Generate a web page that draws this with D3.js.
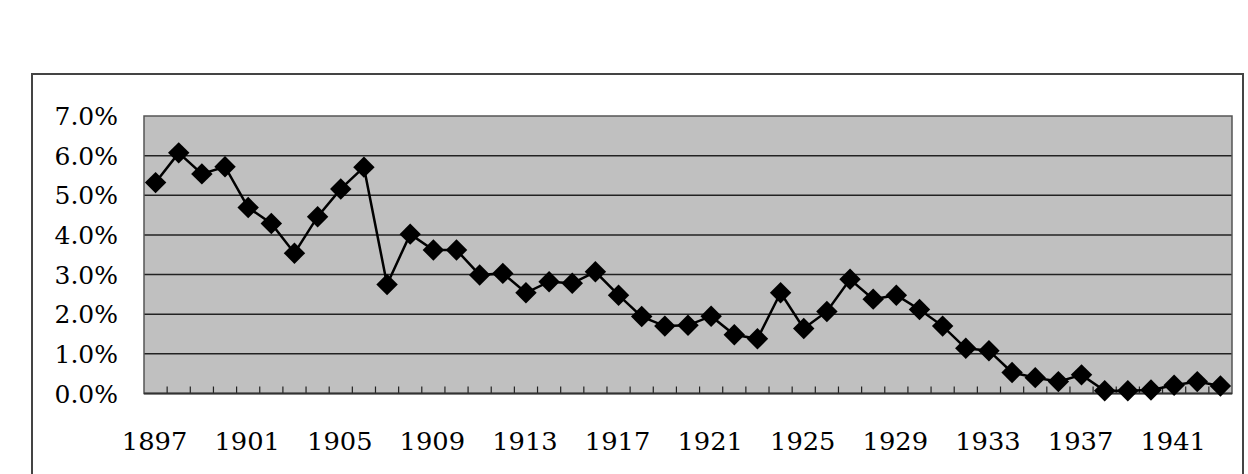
<!DOCTYPE html>
<html>
<head>
<meta charset="utf-8">
<script src="https://cdn.jsdelivr.net/npm/d3@7"></script>
<style>
  html, body { margin: 0; padding: 0; background: #fff; }
  svg { display: block; }
</style>
</head>
<body>
<svg id="chart" width="1248" height="474"></svg>
<script>
const years = d3.range(1897, 1944).map(String);
const values = [
  5.32, 6.07, 5.54, 5.72, 4.69, 4.29, 3.54, 4.46, 5.16, 5.71,
  2.75, 4.02, 3.62, 3.62, 2.99, 3.03, 2.54, 2.82, 2.78, 3.07,
  2.48, 1.94, 1.70, 1.72, 1.95, 1.48, 1.38, 2.54, 1.64, 2.07,
  2.88, 2.38, 2.48, 2.12, 1.70, 1.14, 1.08, 0.53, 0.40, 0.30,
  0.47, 0.07, 0.07, 0.09, 0.21, 0.30, 0.19
];
const yTicks = [0, 1, 2, 3, 4, 5, 6, 7];
const xTickLabels = ["1897","1901","1905","1909","1913","1917","1921","1925","1929","1933","1937","1941"];

const svg = d3.select("#chart");
const L = 144, R = 1232, T = 116, B = 393.5;

// outer frame
svg.append("rect").attr("x", 32).attr("y", 74).attr("width", 1211).attr("height", 420)
  .attr("fill", "#fff").attr("stroke", "#444").attr("stroke-width", 2);

const x = d3.scaleBand().domain(years).range([L, R]).padding(0);
const y = d3.scaleLinear().domain([0, 7]).range([B, T]);

// plot area
svg.append("rect").attr("x", L).attr("y", T).attr("width", R - L).attr("height", B - T)
  .attr("fill", "#c0c0c0");

// gridlines
svg.append("g").selectAll("line").data(yTicks.filter(d => d > 0 && d < 7)).join("line")
  .attr("x1", L).attr("x2", R).attr("y1", d => y(d)).attr("y2", d => y(d))
  .attr("stroke", "#222").attr("stroke-width", 1.5);

svg.append("rect").attr("x", L).attr("y", T).attr("width", R - L).attr("height", B - T)
  .attr("fill", "none").attr("stroke", "#555").attr("stroke-width", 1.5);

// x axis (inward ticks at category boundaries)
const boundaries = years.slice(1).map(d => x(d));
svg.append("g").selectAll("line").data(boundaries).join("line")
  .attr("x1", d => d).attr("x2", d => d).attr("y1", B).attr("y2", B - 7)
  .attr("stroke", "#222").attr("stroke-width", 1.2);
svg.append("line").attr("x1", L).attr("x2", R).attr("y1", B).attr("y2", B)
  .attr("stroke", "#333").attr("stroke-width", 2);

const fontFam = "'DejaVu Serif', 'Liberation Serif', serif";

// y labels
svg.append("g").selectAll("text").data(yTicks).join("text")
  .attr("transform", d => `translate(118,${y(d) + 9})`)
  .attr("text-anchor", "end")
  .attr("font-family", fontFam).attr("font-size", 25).attr("fill", "#000")
  .text(d => d.toFixed(1) + "%");

// x labels
svg.append("g").selectAll("text").data(xTickLabels).join("text")
  .attr("transform", d => `translate(${x(d) + x.bandwidth() / 2 - 1},450) scale(1.03,1)`)
  .attr("text-anchor", "middle")
  .attr("font-family", fontFam).attr("font-size", 25).attr("fill", "#000")
  .text(d => d);

// line
const pts = years.map((d, i) => [x(d) + x.bandwidth() / 2, y(values[i])]);
svg.append("path").attr("d", d3.line()(pts))
  .attr("fill", "none").attr("stroke", "#000").attr("stroke-width", 2.5);

// diamonds
const diamond = d3.symbol().type(d3.symbolSquare).size(230);
svg.append("g").selectAll("path").data(pts).join("path")
  .attr("d", diamond)
  .attr("transform", d => `translate(${d[0]},${d[1]}) rotate(45)`)
  .attr("fill", "#000");
</script>
</body>
</html>
